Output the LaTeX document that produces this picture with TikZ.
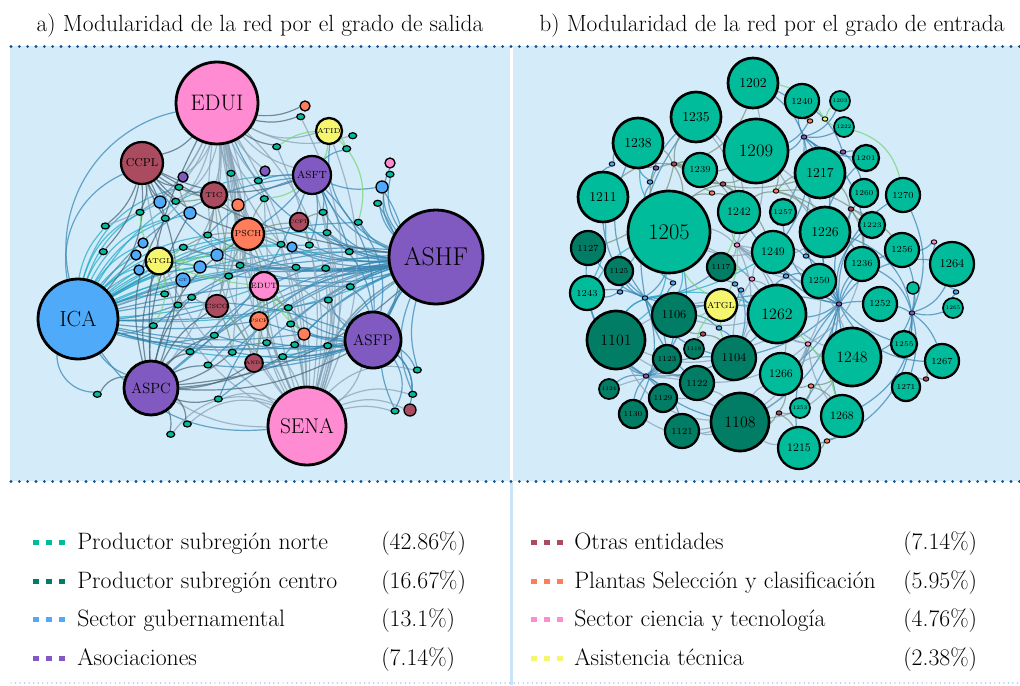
\documentclass[tikz,border=0pt]{standalone}
\usepackage{fontspec}
\usetikzlibrary{shapes.geometric}
\definecolor{panelbg}{RGB}{212,235,250}
\definecolor{dotblue}{RGB}{22,80,140}
\definecolor{lightdot}{RGB}{125,185,228}
\definecolor{sepblue}{RGB}{200,228,248}
\definecolor{cNor}{RGB}{0,188,155}
\definecolor{cCen}{RGB}{0,125,100}
\definecolor{cGov}{RGB}{80,170,250}
\definecolor{cAso}{RGB}{128,90,192}
\definecolor{cOtr}{RGB}{170,75,95}
\definecolor{cPla}{RGB}{255,125,90}
\definecolor{cSci}{RGB}{255,140,210}
\definecolor{cAT}{RGB}{245,245,110}
\definecolor{colA}{RGB}{55,135,178}
\definecolor{colB}{RGB}{135,162,182}
\definecolor{colC}{RGB}{35,172,200}
\definecolor{colD}{RGB}{115,215,115}
\definecolor{colE}{RGB}{72,102,122}
\definecolor{colF}{RGB}{118,148,125}
\pgfdeclarelayer{bg}
\pgfdeclarelayer{edges}
\pgfsetlayers{bg,edges,main}
\begin{document}
\begin{tikzpicture}[x=0.75pt,y=-0.75pt,
  netnode/.style={circle, draw=black, inner sep=0pt, text=black},
  tinynode/.style={ellipse, draw=black, line width=0.9pt, inner sep=0pt, minimum width=6pt, minimum height=4.5pt, fill=cNor},
  rtiny/.style={ellipse, draw=black, line width=0.7pt, inner sep=0pt, minimum width=4.2pt, minimum height=3.3pt},
  lnk/.style={line width=0.9pt, opacity=0.72},
  lA/.style={lnk, draw=colA}, lB/.style={lnk, draw=colB}, lC/.style={lnk, draw=colC},
  lD/.style={lnk, draw=colD}, lE/.style={lnk, draw=colE}, lF/.style={lnk, draw=colF},
  dotsline/.style={draw=dotblue, line width=2.3pt, line cap=round, dash pattern=on 0pt off 6.25pt},
  lightdots/.style={draw=lightdot, line width=1.1pt, line cap=round, dash pattern=on 0pt off 3.4pt},
  titletxt/.style={anchor=base, inner sep=0pt, font=\fontsize{17.6}{21}\selectfont},
  legtxt/.style={anchor=base west, inner sep=0pt, font=\fontsize{17.8}{21}\selectfont},
  legsq/.style={inner sep=0pt, minimum size=3.8pt}
]
\useasboundingbox (0,0) rectangle (1020,685);

% ---------- panels ----------
\begin{pgfonlayer}{bg}
  \fill[white] (0,0) rectangle (1020,685);
  \fill[panelbg] (10,46) rectangle (510,481);
  \fill[panelbg] (513,46) rectangle (1020,481);
  \fill[sepblue] (509.5,483) rectangle (513,685);
  \draw[dotsline] (11,46.5) -- (1020,46.5);
  \draw[dotsline] (11,481.5) -- (1020,481.5);
  \draw[lightdots] (11,683) -- (1020,683);
\end{pgfonlayer}

% ---------- titles ----------
\node[titletxt] (ta) at (260,31.5) {a) Modularidad de la red por el grado de salida};
\node[titletxt] (tb) at (772,31.5) {b) Modularidad de la red por el grado de entrada};

% ---------- left network: nodes ----------
\foreach \n/\x/\y/\r/\c/\t in {
 EDUI/217/103/41/cSci/EDUI, ASHF/436/257/47/cAso/ASHF, ICA/78/319/40/cGov/ICA,
 SENA/307/426/39/cSci/SENA, ASFP/373/340/28/cAso/ASFP, ASPC/151/388/27/cAso/ASPC,
 CCPL/142/163/21/cOtr/CCPL, ASFT/312/175/19/cAso/ASFT, ATID/329/131/13/cAT/ATID,
 PSCH/248/234/16/cPla/PSCH, EDUT/264/286/14/cSci/EDUT, TIC/214/195/13/cOtr/TIC,
 ATGL/159/261/13/cAT/ATGL, CSCO/217/306/11/cOtr/CSCO, PSCF/259/321/9/cPla/PSCF,
 ANDI/254/363/9/cOtr/ANDI, CCFT/299/222/9/cOtr/CCFT,
 o1/238/205/6/cPla/{}, o2/304/334/6/cPla/{}, o3/305/106/5/cPla/{},
 k1/390/163/5/cSci/{}, b1/382/187/6/cGov/{}, m1/410/410/6/cOtr/{},
 GT/183/280/7/cGov/GT, b2/217/255/6/cGov/{}, b3/200/267/6/cGov/{},
 b4/190/213/6/cGov/{}, b5/160/202/6/cGov/{}, b6/143/243/5/cGov/{},
 b7/136/255/5/cGov/{}, b8/139/270/5/cGov/{}, b9/292/247/5/cGov/{},
 p1/183/177/5/cAso/{}, p2/265/171/5/cAso/{}}
{
  \pgfmathsetmacro\fs{0.41*\r}
  \pgfmathsetmacro\dd{1.5*\r}
  \pgfmathsetmacro\lw{\r>24 ? 2.1 : (\r>12 ? 1.7 : (\r>7 ? 1.3 : 1.0))}
  \node[netnode, fill=\c, minimum size=\dd pt, line width=\lw pt,
        font=\fontsize{\fs pt}{\fs pt}\selectfont] (\n) at (\x,\y) {\t};
}
\foreach \n/\x/\y in {
 g1/300.7/116.7, g2/352.7/135.7, g3/346.7/148.7, g4/276.7/146.7, g5/231/173.3,
 g6/258.3/180.7, g7/179/187.3, g8/175.7/201.3, g9/264.3/198.7, g10/140/212.3,
 g11/165.3/218.3, g12/105.3/226, g13/207.7/235, g14/323/212.3, g15/358.3/222.3,
 g16/327/232.7, g17/377.7/203.3, g18/390/174.3, g19/281/244.3, g20/309.3/245,
 g21/183.3/247.3, g22/103.3/251.7, g23/240/265.3, g24/228.7/276, g25/296/267.3,
 g26/325.7/268.3, g27/349.3/251.7, g28/350.3/286.7, g29/328.3/300, g30/288.3/307.7,
 g31/290.7/324, g32/164.7/294, g33/191.7/297.3, g34/178/305, g35/153.3/325.7,
 g36/214.3/335.3, g37/266.7/342.7, g38/294.7/344.7, g39/327.7/345.7, g40/282.7/356.7,
 g41/232.3/352.3, g42/190/351.7, g43/208/365, g44/417.3/370, g45/412.7/394.3,
 g46/395/411, g47/218.3/399, g48/97.3/394.3, g49/187.3/424, g50/170.7/434.3}
  \node[tinynode] (\n) at (\x,\y) {};

% ---------- right network: nodes ----------
\foreach \n/\x/\y/\r/\c/\t in {
 n1202/753/83/25/cNor/1202, n1235/696/117/25/cNor/1235, n1209/756/151/32/cNor/1209,
 n1238/638/143/25/cNor/1238, n1240/802/101/17/cNor/1240, n1203/840/101/10/cNor/1203,
 n1222/844/127/10/cNor/1222, n1201/866/158/13/cNor/1201, n1239/700/170/17/cNor/1239,
 n1217/820/173/25/cNor/1217, n1211/603/197/25/cNor/1211, n1205/669/232/41/cNor/1205,
 n1242/739/212/21/cNor/1242, n1257/783/212/13/cNor/1257, n1260/864/193/14/cNor/1260,
 n1270/903/195/17/cNor/1270, n1226/825/232/25/cNor/1226, n1223/872/225/13/cNor/1223,
 n1127/588/248/17/cCen/1127, n1249/773/252/21/cNor/1249, n1256/902/250/17/cNor/1256,
 n1264/952/264/22/cNor/1264, n1236/862/264/17/cNor/1236, n1125/619/271/14/cCen/1125,
 n1117/721/267/14/cCen/1117, n1250/819/281/17/cNor/1250, n1243/587/293/17/cNor/1243,
 nATGL/721/305/16/cAT/ATGL, n1262/777/314/29/cNor/1262, n1252/880/304/17/cNor/1252,
 n1254/913/288/6/cNor/{}, n1265/953/308/10/cNor/1265, n1106/674/315/22/cCen/1106,
 n1101/616/340/29/cCen/1101, n1119/694/349/10/cCen/1119, n1123/667/359/14/cCen/1123,
 n1104/734/358/22/cCen/1104, n1248/852/357/29/cNor/1248, n1255/904/344/13/cNor/1255,
 n1267/942/361/17/cNor/1267, n1266/781/374/21/cNor/1266, n1124/609/389/10/cCen/1124,
 n1129/663/398/14/cCen/1129, n1122/697/383/17/cCen/1122, n1271/906/387/14/cNor/1271,
 n1130/633/414/14/cCen/1130, n1253/800/408/10/cNor/1253, n1108/740/422/29/cCen/1108,
 n1268/842/416/21/cNor/1268, n1121/682/431/17/cCen/1121, n1215/799/448/21/cNor/1215}
{
  \pgfmathsetmacro\fs{0.41*\r}
  \pgfmathsetmacro\dd{1.5*\r}
  \pgfmathsetmacro\lw{\r>24 ? 2.0 : (\r>12 ? 1.7 : (\r>7 ? 1.3 : 1.0))}
  \node[netnode, fill=\c, minimum size=\dd pt, line width=\lw pt,
        font=\fontsize{\fs pt}{\fs pt}\selectfont] (\n) at (\x,\y) {\t};
}
\foreach \n/\x/\y/\c in {
 rb1/612/164/cGov, rp1/656/168/cAso, rm1/674/164/cOtr, rb2/650/182/cGov,
 rm2/723/184/cOtr, ro1/712/193/cPla, ro2/776/191/cPla, ro3/810/121/cPla,
 ry1/825/119/cAT, rp2/804/137/cAso, rp3/843/152/cAso, rm3/851/209/cOtr,
 rk1/737/245/cSci, rb3/806/256/cGov, rb4/786/276/cGov, rk2/752/279/cSci,
 rb5/673/283/cGov, rb6/735/284/cGov, rb7/741/290/cGov, rb8/620/292/cGov,
 rb9/645/298/cGov, rp4/839/304/cAso, rp5/912/313/cAso, rk3/934/242/cSci,
 rb10/956/292/cGov, rb11/719/328/cGov, rm4/703/334/cOtr, rk4/808/344/cSci,
 rp6/646/376/cAso, ro4/811/386/cPla, rm5/926/379/cOtr, rm6/779/413/cOtr,
 ro5/827/441/cPla}
  \node[rtiny, fill=\c] (\n) at (\x,\y) {};

% ---------- edges ----------
\begin{pgfonlayer}{edges}
% left: ICA
\foreach \a/\b/\k in {ICA/ASHF/-8, ICA/ASFP/-10, ICA/EDUT/-5, ICA/PSCH/10, ICA/ATGL/10,
 ICA/g12/10, ICA/g22/5, ICA/g32/5, ICA/g13/12, ICA/g21/10, ICA/b2/10, ICA/b3/8, ICA/GT/5,
 ICA/g24/5, ICA/g23/10, ICA/g16/12, ICA/g27/8, ICA/b6/10, ICA/b5/15, ICA/g10/15, ICA/g11/15,
 ICA/g7/20, ICA/b4/15, ICA/ASFT/20, ICA/g19/10, ICA/g20/10, ICA/g26/8, ICA/b7/6, ICA/b8/4}
  {\pgfmathsetmacro\kk{1.5*\k}\draw[lC] (\a) to[bend left=\kk] (\b);}
\foreach \a/\b/\k in {ICA/ASHF/6, ICA/CCPL/25, ICA/g34/-5, ICA/g35/-10, ICA/g36/-10,
 ICA/g37/-8, ICA/g38/-8, ICA/g39/-6, ICA/g28/5, ICA/g25/6, ICA/o2/-6, ICA/PSCF/-5,
 ICA/CSCO/-5, ICA/g15/10, ICA/EDUI/30, ICA/g48/-30, ICA/ASPC/-10, ICA/SENA/-20, ICA/g29/-4}
  {\pgfmathsetmacro\kk{1.5*\k}\draw[lA] (\a) to[bend left=\kk] (\b);}
% left: ASHF
\foreach \a/\b/\k in {ASHF/ASPC/-10, ASHF/ASFP/-5, ASHF/SENA/-15, ASHF/EDUI/20, ASHF/ASFT/15,
 ASHF/CCPL/25, ASHF/g27/5, ASHF/g28/-5, ASHF/g29/-5, ASHF/g30/-5, ASHF/g31/-8, ASHF/g25/5,
 ASHF/g26/3, ASHF/g20/8, ASHF/g19/10, ASHF/g16/10, ASHF/g15/10, ASHF/g14/15, ASHF/g17/10,
 ASHF/b1/15, ASHF/g42/-15, ASHF/g43/-12, ASHF/g36/-10, ASHF/g37/-8, ASHF/g38/-8, ASHF/g39/-5,
 ASHF/g40/-8, ASHF/g41/-10, ASHF/g44/-10, ASHF/g45/-15, ASHF/g46/-20, ASHF/ATID/25,
 ASHF/CCFT/10, ASHF/g13/12, ASHF/g33/-10, ASHF/g24/5, ASHF/g23/5, ASHF/g21/8, ASHF/PSCH/8,
 ASHF/b9/6, ASHF/k1/20, ASHF/g18/15, ASHF/ATGL/5, ASHF/g35/-15, ASHF/g47/-20}
  {\pgfmathsetmacro\kk{1.5*\k}\draw[lA] (\a) to[bend left=\kk] (\b);}
% left: SENA
\foreach \a/\b/\k in {SENA/EDUI/-10, SENA/EDUI/5, SENA/EDUI/15, SENA/EDUI/-20, SENA/ASFT/-10,
 SENA/g4/-10, SENA/g5/5, SENA/g6/-5, SENA/g9/5, SENA/g14/-10, SENA/g19/-5, SENA/g25/-5,
 SENA/PSCH/5, SENA/EDUT/5, SENA/ASFP/-10, SENA/ASPC/10, SENA/g50/-25, SENA/g49/-20,
 SENA/g47/-15, SENA/m1/15, SENA/g46/10, SENA/g45/15, SENA/g44/20, SENA/CCPL/15, SENA/TIC/10,
 SENA/ATGL/15, SENA/ASHF/15, SENA/g20/-8, SENA/g26/-10, SENA/g29/-10, SENA/g40/-5,
 SENA/g37/5, SENA/g30/-3, SENA/g31/-3, SENA/g16/-12, SENA/g1/-15, SENA/ATID/-15, SENA/o1/8}
  {\pgfmathsetmacro\kk{1.5*\k}\draw[lB] (\a) to[bend left=\kk] (\b);}
% left: EDUI
\foreach \a/\b/\k in {EDUI/ATID/-15, EDUI/g2/-15, EDUI/ASFT/-10, EDUI/PSCH/5, EDUI/TIC/5,
 EDUI/g5/-5, EDUI/g6/-5, EDUI/g9/-8, EDUI/CSCO/10, EDUI/ANDI/5, EDUI/ASPC/15, EDUI/ICA/25,
 EDUI/g13/5, EDUI/g23/5, EDUI/ASFP/-15, EDUI/g30/-5, EDUI/g12/15, EDUI/g10/10, EDUI/b5/10,
 EDUI/p1/10, EDUI/p2/-5, EDUI/g8/15, EDUI/g11/10, EDUI/g19/-8, EDUI/g36/10, EDUI/g41/5,
 EDUI/o2/-10}
  {\pgfmathsetmacro\kk{1.5*\k}\draw[lB] (\a) to[bend left=\kk] (\b);}
\foreach \a/\b/\k in {EDUI/CCPL/10, EDUI/g1/-10, EDUI/o3/-10, EDUI/g4/-8}
  {\pgfmathsetmacro\kk{1.5*\k}\draw[lE] (\a) to[bend left=\kk] (\b);}
% left: ASPC
\foreach \a/\b/\k in {ASPC/g48/-20, ASPC/g49/15, ASPC/g50/10, ASPC/g47/-10, ASPC/ASFP/-10,
 ASPC/ASHF/-12, ASPC/g36/10, ASPC/g42/10, ASPC/g43/8, ASPC/g33/10, ASPC/ATGL/10,
 ASPC/CCPL/-15, ASPC/b4/10, ASPC/CSCO/10, ASPC/PSCH/15, ASPC/EDUI/10, ASPC/g40/-8,
 ASPC/g41/-8, ASPC/ANDI/-10, ASPC/g11/15}
  {\pgfmathsetmacro\kk{1.5*\k}\draw[lE] (\a) to[bend left=\kk] (\b);}
% left: ASFP
\foreach \a/\b/\k in {ASFP/ICA/-10, ASFP/g44/10, ASFP/g45/15, ASFP/g46/20, ASFP/m1/20,
 ASFP/g39/5, ASFP/g38/5, ASFP/g40/5, ASFP/g37/5, ASFP/g36/8, ASFP/g41/8, ASFP/g28/-10,
 ASFP/g29/10, ASFP/g30/10, ASFP/g31/8, ASFP/o2/5, ASFP/ASFT/-15, ASFP/g16/-15, ASFP/g15/-15,
 ASFP/g17/-20, ASFP/b1/-20, ASFP/PSCF/5, ASFP/ANDI/5, ASFP/g43/8, ASFP/g47/-10}
  {\pgfmathsetmacro\kk{1.5*\k}\draw[lA] (\a) to[bend left=\kk] (\b);}
% left: CCPL
\foreach \a/\b/\k in {CCPL/g10/10, CCPL/g12/10, CCPL/ICA/15, CCPL/TIC/-10, CCPL/PSCH/-10,
 CCPL/ASFT/-15, CCPL/g7/-10, CCPL/g8/-5, CCPL/b5/-5, CCPL/g22/10, CCPL/g11/-5, CCPL/ASHF/-8}
  {\pgfmathsetmacro\kk{1.5*\k}\draw[lE] (\a) to[bend left=\kk] (\b);}
% left: ASFT
\foreach \a/\b/\k in {ASFT/g14/10, ASFT/g16/10, ASFT/g6/-5, ASFT/b1/-10, ASFT/g3/10,
 ASFT/PSCH/5, ASFT/g20/10, ASFT/g27/5, ASFT/ICA/-15, ASFT/ASPC/10, ASFT/g13/-10}
  {\pgfmathsetmacro\kk{1.5*\k}\draw[lA] (\a) to[bend left=\kk] (\b);}
% left: green links
\foreach \a/\b/\k in {ATGL/g10/10, ATGL/g32/-10, ATGL/g35/15, ATGL/PSCH/-10, ATGL/g21/-5,
 ATGL/EDUT/-5, ATID/ASFT/10, ATID/g4/-10, ATID/g15/20, ATID/g3/10, EDUT/PSCF/-5,
 EDUT/g31/10, EDUT/o2/-5, ASFT/g9/10, ATGL/b3/5}
  {\pgfmathsetmacro\kk{1.5*\k}\draw[lD] (\a) to[bend left=\kk] (\b);}
% left: misc
\foreach \a/\b/\k in {TIC/PSCH/5, TIC/CSCO/10, TIC/g13/5, PSCH/g19/5, PSCH/CCFT/5, PSCH/EDUT/5,
 PSCH/g23/5, PSCH/g24/-5, CSCO/ANDI/10, CSCO/g41/5, EDUT/ANDI/5, EDUT/g37/5, PSCF/ANDI/5,
 CCFT/g20/5, CCFT/g14/5, TIC/g8/5, TIC/o1/5, o1/PSCH/5, CSCO/g33/5, b2/g21/5, GT/g34/5,
 b4/g7/5, PSCH/g9/5, TIC/g7/10, PSCH/g21/-10, EDUT/g30/-5}
  {\pgfmathsetmacro\kk{1.5*\k}\draw[lF] (\a) to[bend left=\kk] (\b);}

% right: hubs
\foreach \a/\b/\k in {rp4/n1262/10, rp4/n1252/5, rp4/n1236/10, rp4/n1250/-10, rp4/n1226/10,
 rp4/n1248/-5, rp4/n1256/15, rp4/n1223/20, rp4/n1270/20, rp4/n1255/-10, rp4/n1268/-10,
 rp4/n1266/10, rp4/n1249/15, rp4/n1217/20, rp4/n1264/20, rp4/n1108/15, rp4/n1104/10,
 rp4/n1215/-15, rp4/n1253/10, rp4/n1267/-20, rp4/n1201/25, rp4/n1260/15, rp4/n1257/20,
 rp4/n1242/10, rp4/n1106/-10,
 rp5/n1264/-15, rp5/n1265/-10, rp5/n1267/10, rp5/n1271/10, rp5/n1255/5, rp5/n1252/-5,
 rp5/n1256/-10, rp5/n1248/15, rp5/n1254/-10, rp5/n1236/-15, rp5/n1226/-20, rp5/n1268/20,
 rp5/n1215/25, rp5/n1270/-15,
 rb9/n1205/-10, rb9/n1211/15, rb9/n1243/-10, rb9/n1127/10, rb9/n1125/10, rb9/n1101/-10,
 rb9/n1106/10, rb9/n1238/20, rb9/n1235/15, rb9/n1104/-15, rb9/n1122/-10,
 rb9/n1123/10, rb9/n1130/15, rb9/nATGL/-5, rb9/n1117/-10,
 rp6/n1101/10, rp6/n1123/-10, rp6/n1129/10, rp6/n1130/-10, rp6/n1124/-15, rp6/n1121/15,
 rp6/n1122/10, rp6/n1104/10, rp6/n1108/-10, rp6/n1106/-15, rp6/n1127/20, rp6/n1243/15,
 rp6/n1205/-20, rp6/n1262/-15,
 rp2/n1240/10, rp2/n1202/-10, rp2/n1209/10, rp2/n1217/10, rp2/n1201/-10, rp2/n1222/-10,
 rp2/n1203/-15, rp2/n1226/15, rp2/n1257/10, rp2/n1249/15, rp2/n1236/20,
 rp3/n1201/10, rp3/n1217/-10, rp3/n1260/10, rp3/n1240/-10,
 ro3/n1240/10, ro3/n1202/-10, ro3/n1209/10, rb1/n1238/10, rb1/n1211/-10,
 rb2/n1238/10, rb2/n1205/-10, rb2/n1235/10, rb3/n1226/10, rb3/n1249/-10, rb3/n1250/10,
 rb4/n1249/10, rb4/n1262/-10, rb4/n1250/10, rb5/n1205/10, rb5/n1106/-10,
 rb6/n1117/10, rb6/n1262/-10, rb7/nATGL/10, rb7/n1104/10, rb8/n1243/10, rb8/n1125/-10,
 rb10/n1264/10, rb10/n1265/-10, rk3/n1256/10, rk3/n1264/-10, rb11/n1104/10, rb11/n1106/-10}
  {\pgfmathsetmacro\kk{1.5*\k}\draw[lA] (\a) to[bend left=\kk] (\b);}
\foreach \a/\b/\k in {rk1/n1242/10, rk1/n1249/-10, rk1/n1262/10, rk1/n1205/-10, rk1/n1117/10,
 rk1/n1209/-15, rk1/n1235/-20, rk1/n1266/20, rk1/n1104/15, rk1/n1250/-15, rk1/n1226/-20,
 rk1/n1248/20, rk4/n1262/10, rk4/n1248/-10, rk4/n1266/10, rk4/n1268/-10, rk4/n1108/15,
 rk4/n1104/-15, rk4/n1250/-10, rk4/n1236/-15, rk4/n1121/20, rk4/n1101/25,
 n1108/n1266/10, n1108/n1215/-10, n1104/n1262/10, n1106/n1262/-10, n1101/n1262/15,
 n1205/n1262/10, n1205/n1249/-10, n1209/n1226/10, n1202/n1226/-10, n1235/n1242/10,
 n1101/n1104/-10, n1122/n1108/10, n1121/n1108/-10, n1130/n1108/-15, n1129/n1108/10,
 n1124/n1122/10, n1101/n1108/-20, n1262/n1248/-5, n1266/n1248/10, n1108/n1248/-15,
 rk2/n1262/10, rk2/n1117/-10, rk2/n1249/10, rk2/n1104/-10}
  {\pgfmathsetmacro\kk{1.5*\k}\draw[lB] (\a) to[bend left=\kk] (\b);}
\foreach \a/\b/\k in {rm1/n1235/10, rm1/n1238/-10, rm1/n1239/10, rm1/n1209/-15, rm1/n1205/10,
 rm1/n1211/-15, rm1/n1242/15, rm1/n1202/-20, rm1/n1217/-15, rm1/n1127/20,
 rm2/n1239/10, rm2/n1209/-10, rm2/n1242/10, rm2/n1205/-10, rm2/n1249/10,
 ro1/n1239/10, ro1/n1205/-10, ro1/n1242/10,
 ro2/n1217/10, ro2/n1242/-10, ro2/n1226/10, ro2/n1209/-10, ro2/n1236/15, ro2/n1223/15,
 rp1/n1238/10, rp1/n1205/-10, rp1/n1239/10,
 rm6/n1108/10, rm6/n1253/-10, rm6/n1215/10, rm6/n1266/-10,
 ro4/n1266/10, ro4/n1248/-10, ro4/n1268/10, ro4/n1253/10,
 rm4/n1106/10, rm4/n1119/-10, rm4/n1104/10,
 rm3/n1226/10, rm3/n1223/-10, rm3/n1236/10, rm3/n1217/-10, rm3/n1256/10,
 rm5/n1267/10, rm5/n1271/-10, ro5/n1215/10, ro5/n1268/-10}
  {\pgfmathsetmacro\kk{1.5*\k}\draw[lF] (\a) to[bend left=\kk] (\b);}
\foreach \a/\b/\k in {n1205/n1106/10, n1205/n1243/-10, n1205/n1101/15, n1211/n1243/10,
 n1238/n1205/-10, rb9/n1262/10, nATGL/n1262/5, n1101/rb9/10, rb8/n1205/10, rb9/n1249/-8}
  {\pgfmathsetmacro\kk{1.5*\k}\draw[lC] (\a) to[bend left=\kk] (\b);}
\foreach \a/\b/\k in {nATGL/n1205/10, nATGL/n1104/-10, nATGL/n1106/10, ry1/n1202/-15,
 ry1/n1203/10, ry1/n1222/-10, n1222/n1270/20, n1262/n1268/10, n1242/n1117/5,
 nATGL/rk1/-10, n1119/nATGL/10}
  {\pgfmathsetmacro\kk{1.5*\k}\draw[lD] (\a) to[bend left=\kk] (\b);}
\end{pgfonlayer}

% ---------- legend ----------
\foreach \i/\c/\y/\t/\p in {
 1/cNor/549/Productor subregión norte/(42.86\%),
 2/cCen/588/Productor subregión centro/(16.67\%),
 3/cGov/626/Sector gubernamental/(13.1\%),
 4/cAso/665/Asociaciones/(7.14\%)}
{
  \node[legsq, fill=\c] (la\i) at (36,\y-6.5) {};
  \node[legsq, fill=\c] (lb\i) at (49,\y-6.5) {};
  \node[legsq, fill=\c] (lc\i) at (62,\y-6.5) {};
  \node[legtxt] (lt\i) at (77,\y) {\t};
  \node[legtxt] (lp\i) at (381,\y) {\p};
}
\foreach \i/\c/\y/\t/\p in {
 1/cOtr/549/Otras entidades/(7.14\%),
 2/cPla/588/Plantas Selección y clasificación/(5.95\%),
 3/cSci/626/Sector ciencia y tecnología/(4.76\%),
 4/cAT/665/Asistencia técnica/(2.38\%)}
{
  \node[legsq, fill=\c] (ra\i) at (534,\y-6.5) {};
  \node[legsq, fill=\c] (rb\i) at (547,\y-6.5) {};
  \node[legsq, fill=\c] (rc\i) at (560,\y-6.5) {};
  \node[legtxt] (rt\i) at (574,\y) {\t};
  \node[legtxt] (rp\i) at (903,\y) {\p};
}
\end{tikzpicture}
\end{document}
